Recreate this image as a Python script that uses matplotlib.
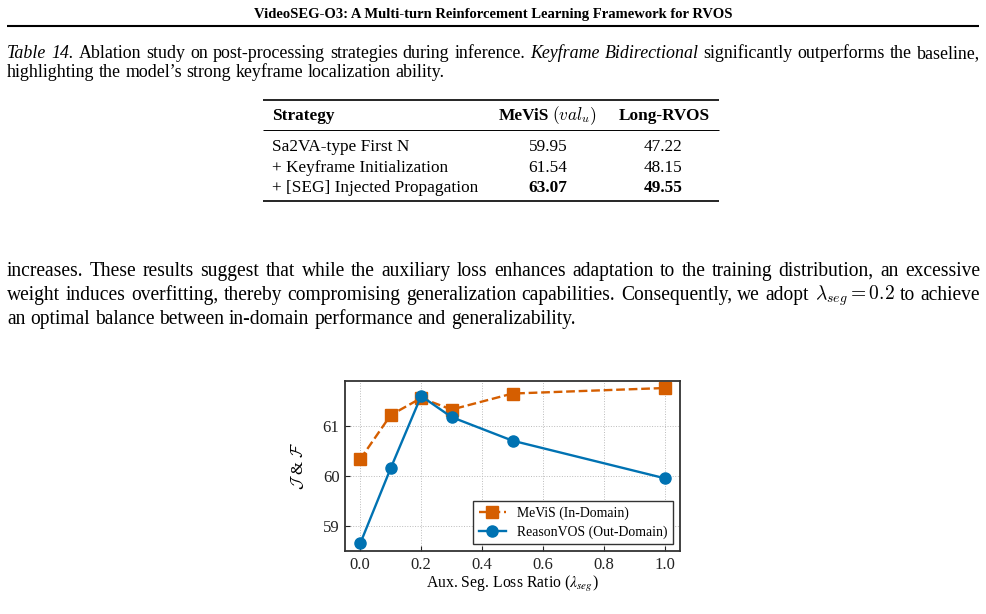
import matplotlib
matplotlib.use('Agg')
import matplotlib.pyplot as plt

plt.rcParams['font.family'] = ['Liberation Serif', 'DejaVu Serif']
plt.rcParams['mathtext.fontset'] = 'cm'

# --- page text ---
running_title = 'VideoSEG-O3: A Multi-turn Reinforcement Learning Framework for RVOS'

caption_lines = [
    [('Table 14.', 'italic'),
     ('Ablation study on post-processing strategies during inference.', 'normal'),
     ('Keyframe Bidirectional', 'italic'),
     ('significantly outperforms the baseline,', 'normal')],
    [('highlighting the model\u2019s strong keyframe localization ability.', 'normal')],
]

body_lines = [
    [('increases. These results suggest that while the auxiliary loss enhances adaptation to the training distribution, an excessive', 'normal')],
    [('weight induces overfitting, thereby compromising generalization capabilities. Consequently, we adopt', 'normal'),
     (r'$\lambda_{seg}=0.2$', 'normal'),
     ('to achieve', 'normal')],
    [('an optimal balance between in-domain performance and generalizability.', 'normal')],
]

# --- table data ---
table_cols = ['Strategy', 'MeViS', 'Long-RVOS']
strategies = ['Sa2VA-type First N', '+ Keyframe Initialization', '+ [SEG] Injected Propagation']
mevis_scores = ['59.95', '61.54', '63.07']
long_rvos_scores = ['47.22', '48.15', '49.55']
best_row = 2

# --- chart data ---
ratios = [0.0, 0.1, 0.2, 0.3, 0.5, 1.0]
mevis = [60.33, 61.21, 61.55, 61.32, 61.64, 61.75]
reasonvos = [58.65, 60.15, 61.59, 61.17, 60.70, 59.95]

fig = plt.figure(figsize=(9.87, 6.14), dpi=100)
page = fig.add_axes([0, 0, 1, 1])
page.set_xlim(0, 987)
page.set_ylim(614, 0)
page.axis('off')
renderer = fig.canvas.get_renderer()


def put_line(y, segments, size, x0=7, x1=980, justify=True):
    # split segments into words, then spread them over the line width
    objs = []
    for text, style in segments:
        words = [text] if text.startswith('$') else text.split(' ')
        for w in words:
            t = page.text(0, y, w, fontsize=size, va='baseline', ha='left',
                          style=style, math_fontfamily='cm')
            objs.append(t)
    widths = [t.get_window_extent(renderer).width for t in objs]
    if justify and len(objs) > 1:
        gap = (x1 - x0 - sum(widths)) / (len(objs) - 1)
    else:
        gap = size * 100 / 72 * 0.25
    x = x0
    for t, w in zip(objs, widths):
        t.set_x(x)
        x += w + gap


# running head
page.text(493, 18, running_title, fontsize=10.5, weight='bold', ha='center', va='baseline')
page.plot([7, 979], [26, 26], color='black', lw=1.5, solid_capstyle='butt')

# caption
put_line(58, caption_lines[0], 12.9)
put_line(77, caption_lines[1], 12.9, justify=False)

# table
tsize = 12.4
page.plot([263, 719], [100, 100], color='black', lw=1.2, solid_capstyle='butt')
page.plot([263, 719], [130, 130], color='black', lw=0.7, solid_capstyle='butt')
page.plot([263, 719], [201, 201], color='black', lw=1.2, solid_capstyle='butt')
page.text(272, 120, table_cols[0], fontsize=tsize, weight='bold', va='baseline')
page.text(549, 120, table_cols[1], fontsize=tsize, weight='bold', va='baseline', ha='right')
page.text(552, 120, r'$(val_u)$', fontsize=tsize, va='baseline', ha='left', math_fontfamily='cm')
page.text(664, 120, table_cols[2], fontsize=tsize, weight='bold', va='baseline', ha='center')
for i, name in enumerate(strategies):
    yb = 151 + i * 20.7
    wt = 'bold' if i == best_row else 'normal'
    page.text(272, yb, name, fontsize=tsize, va='baseline')
    page.text(548, yb, mevis_scores[i], fontsize=tsize, va='baseline', ha='center', weight=wt)
    page.text(663, yb, long_rvos_scores[i], fontsize=tsize, va='baseline', ha='center', weight=wt)

# body text
put_line(276, body_lines[0], 14.05)
put_line(300, body_lines[1], 14.05)
put_line(324, body_lines[2], 14.05, justify=False)

# --- chart ---
ax = fig.add_axes([345 / 987, 63 / 614, 335 / 987, 170 / 614])
ax.plot(ratios, mevis, color='#D55E00', ls='--', lw=1.7, marker='s', ms=8,
        label='MeViS (In-Domain)')
ax.plot(ratios, reasonvos, color='#0072B2', ls='-', lw=1.7, marker='o', ms=8,
        label='ReasonVOS (Out-Domain)')
ax.set_xlim(-0.05, 1.05)
ax.set_ylim(58.5, 61.89)
ax.set_xticks([0.0, 0.2, 0.4, 0.6, 0.8, 1.0])
ax.set_xticklabels(['0.0', '0.2', '0.4', '0.6', '0.8', '1.0'])
ax.set_yticks([59, 60, 61])
ax.tick_params(direction='in', labelsize=12, length=3.5, width=0.8, colors='#222222', pad=4)
ax.grid(True, ls=':', lw=0.7, color='#bbbbbb')
for s in ax.spines.values():
    s.set_color('#333333')
    s.set_linewidth(1.3)
ax.set_xlabel(r'Aux. Seg. Loss Ratio ($\lambda_{seg}$)', fontsize=11.3, labelpad=1,
              math_fontfamily='stix')
ax.set_ylabel(r'$\mathcal{J}$ & $\mathcal{F}$', fontsize=12, labelpad=11)
leg = ax.legend(loc='lower right', fontsize=9.9, fancybox=False, framealpha=1,
                edgecolor='#333333', borderaxespad=0.5, handlelength=2.0,
                borderpad=0.4, labelspacing=0.4)
leg.get_frame().set_linewidth(1.0)

fig.savefig('out.png', dpi=100)
